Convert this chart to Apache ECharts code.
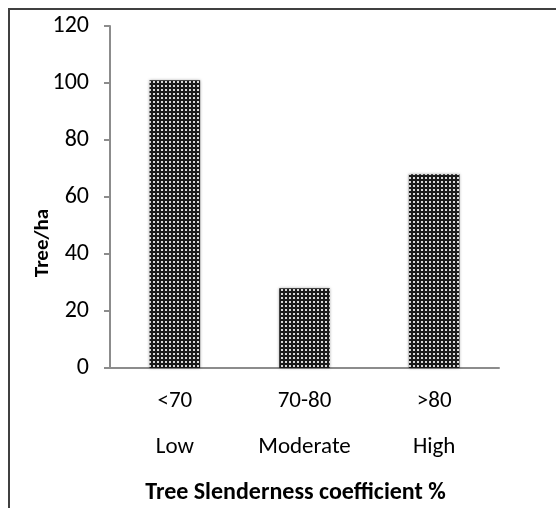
<!DOCTYPE html>
<html>
<head>
<meta charset="utf-8">
<script src="https://cdn.jsdelivr.net/npm/echarts@6/dist/echarts.min.js"></script>
<style>
  html, body { margin:0; padding:0; background:#fff; }
  #frame { position:absolute; left:8px; top:8px; width:560px; height:520px;
           border-left:2px solid #404040; border-top:2px solid #404040; }
  #container { position:absolute; left:0; top:0; width:556px; height:508px; }
</style>
</head>
<body>
<div id="frame"></div>
<div id="container"></div>
<script>
// data
var rangeLabels = ['<70', '70-80', '>80'];
var classLabels = ['Low', 'Moderate', 'High'];
var treesPerHa = [101, 28, 68];
var yTitle = 'Tree/ha';
var xTitle = 'Tree Slenderness coefficient %';

var FONT = 'Carlito, Lato, "Liberation Sans", sans-serif';

// dotted fill like the original (dark with light dots)
function makePattern() {
  var c = document.createElement('canvas');
  c.width = 4; c.height = 4;
  var g = c.getContext('2d');
  g.fillStyle = '#1a1a1a';
  g.fillRect(0, 0, 4, 4);
  g.fillStyle = '#d8d8d8';
  g.fillRect(1, 1, 2, 2);
  return c;
}

var cats = [];
for (var i = 0; i < rangeLabels.length; i++) cats.push(rangeLabels[i] + '\n' + classLabels[i]);

var myChart = echarts.init(document.getElementById('container'));
var option = {
  animation: false,
  grid: { left: 110, right: 57, top: 26, bottom: 140, outerBoundsMode: 'none' },
  // y title sits centred on plot + category labels, like Excel does
  graphic: [{
    type: 'text', x: 43, y: 243, rotation: Math.PI / 2,
    style: { text: yTitle, fill: '#000', font: 'bold 21px ' + FONT, align: 'center', verticalAlign: 'middle' }
  }],
  xAxis: {
    type: 'category',
    data: cats,
    axisLine: { lineStyle: { color: '#8c8c8c', width: 2 } },
    axisTick: { length: 92, interval: 0, lineStyle: { color: '#8c8c8c', width: 2 } },
    axisLabel: { interval: 0, margin: 10, color: '#000', fontFamily: FONT, fontSize: 23, lineHeight: 46 },
    name: xTitle,
    nameLocation: 'middle',
    nameGap: 113,
    nameTextStyle: { color: '#000', fontFamily: FONT, fontSize: 24, fontWeight: 'bold', padding: [0, 18, 0, 0] }
  },
  yAxis: {
    type: 'value',
    min: 0, max: 120, interval: 20,
    axisLine: { show: true, lineStyle: { color: '#8c8c8c', width: 2 } },
    axisTick: { show: true, length: 6, lineStyle: { color: '#8c8c8c', width: 2 } },
    splitLine: { show: false },
    axisLabel: { margin: 21, color: '#000', fontFamily: FONT, fontSize: 24 }
  },
  series: [{
    type: 'bar',
    data: treesPerHa,
    barWidth: '39%',
    itemStyle: {
      color: { image: makePattern(), repeat: 'repeat' },
      shadowColor: 'rgba(0,0,0,0.35)', shadowBlur: 3
    }
  }]
};
myChart.setOption(option);
</script>
</body>
</html>
